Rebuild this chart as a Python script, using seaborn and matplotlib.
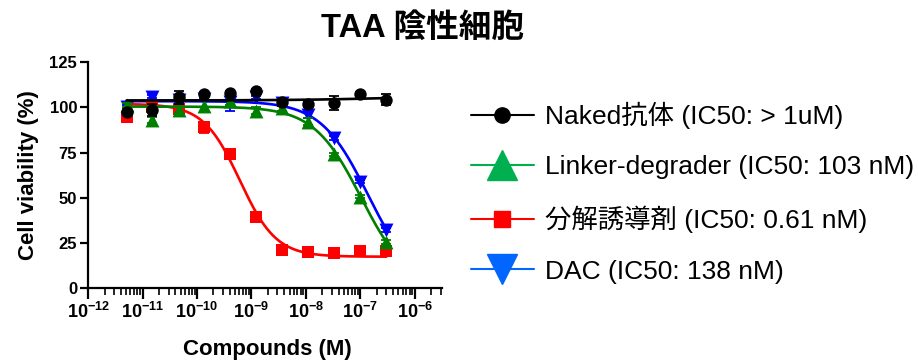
import numpy as np
import pandas as pd
import matplotlib
matplotlib.use("Agg")
import matplotlib.pyplot as plt
import seaborn as sns
from matplotlib.lines import Line2D
from matplotlib.ticker import LogLocator, FuncFormatter, MultipleLocator, NullFormatter

# 3-fold dilution series (M)
dose = [5.08e-12, 1.52e-11, 4.57e-11, 1.37e-10, 4.12e-10, 1.23e-9,
        3.70e-9, 1.11e-8, 3.33e-8, 1.0e-7, 3.0e-7]

naked = [97.7, 98.6, 105.6, 107.5, 107.9, 109.3, 102.9, 101.8, 102.7, 107.5, 104.2]
naked_err = [1.0, 3.5, 3.5, 1.0, 1.0, 1.0, 2.0, 1.5, 3.9, 1.0, 3.0]
linker = [101.4, 93.1, 98.6, 100.8, 103.6, 98.3, 99.6, 92.2, 74.1, 50.7, 25.8]
linker_err = [1.0, 1.5, 1.5, 3.5, 2.0, 2.0, 1.5, 2.0, 1.0, 1.0, 1.0]
degrader = [94.6, 100.5, 99.0, 89.0, 74.3, 39.6, 21.2, 19.9, 19.7, 20.8, 20.8]
degrader_err = [1.0, 2.0, 1.0, 3.0, 1.0, 1.0, 0.5, 0.5, 0.5, 0.5, 0.5]
dac = [100.5, 106.0, 104.0, 104.5, 103.0, 105.6, 102.3, 95.9, 83.0, 59.0, 32.3]
dac_err = [1.0, 1.0, 1.0, 1.0, 5.0, 1.0, 1.0, 1.5, 1.0, 1.0, 1.0]

# 4PL fit parameters: top, bottom, IC50 (M), hill slope
fit_naked = [103.9, 106.5, 3.0e-7, 0.5]
fit_linker = [100.5, 0.0, 1.03e-7, 1.0]
fit_degrader = [102.0, 17.5, 6.1e-10, 1.3]
fit_dac = [103.5, 0.0, 1.38e-7, 1.0]

labels = ["Naked抗体 (IC50: > 1uM)", "Linker-degrader (IC50: 103 nM)",
          "分解誘導剤 (IC50: 0.61 nM)", "DAC (IC50: 138 nM)"]

sns.set_style("ticks")
plt.rcParams['font.family'] = ['Liberation Sans', 'Noto Sans CJK JP']
plt.rcParams['mathtext.fontset'] = 'custom'
plt.rcParams['mathtext.rm'] = 'Liberation Sans:bold'
plt.rcParams['mathtext.it'] = 'Liberation Sans:bold'
plt.rcParams['mathtext.bf'] = 'Liberation Sans:bold'
for key in ['text.color', 'axes.labelcolor', 'xtick.color', 'ytick.color',
            'axes.edgecolor']:
    plt.rcParams[key] = 'black'


def four_pl(x, p):
    top, bottom, ic50, hill = p
    return bottom + (top - bottom) / (1 + (x / ic50) ** hill)


fig = plt.figure(figsize=(9.18, 3.6), dpi=100)
ax = fig.add_axes([0.096, 0.199, 0.385, 0.628])
ax.set_xscale('log')

# draw order: blue, red, green, black
series = [
    (dac, dac_err, fit_dac, 'v', '#0000FF', 100),
    (degrader, degrader_err, fit_degrader, 's', '#FF0000', 85),
    (linker, linker_err, fit_linker, '^', '#008000', 100),
    (naked, naked_err, fit_naked, 'o', 'black', 80),
]

xfit = np.logspace(np.log10(dose[0]), np.log10(dose[-1]), 200)
for i, (vals, err, fit, mk, col, s) in enumerate(series):
    z = 2 + i
    df = pd.DataFrame({'dose': dose, 'viability': vals})
    curve = pd.DataFrame({'dose': xfit, 'viability': four_pl(xfit, fit)})
    sns.lineplot(data=curve, x='dose', y='viability', color=col, lw=1.9,
                 ax=ax, zorder=z)
    ax.errorbar(dose, vals, yerr=err, fmt='none', ecolor=col, elinewidth=1.3,
                capsize=3.6, capthick=1.3, zorder=z)
    sns.scatterplot(data=df, x='dose', y='viability', marker=mk, color=col,
                    s=s, edgecolor=col, linewidth=0, ax=ax, zorder=z + 0.5,
                    legend=False)

ax.set_xlim(1e-12, 3.1e-6)
ax.set_ylim(0, 125)
ax.yaxis.set_major_locator(MultipleLocator(25))
ax.xaxis.set_major_locator(LogLocator(base=10, numticks=20))
ax.xaxis.set_minor_locator(LogLocator(base=10, subs=np.arange(2, 10), numticks=20))
ax.xaxis.set_minor_formatter(NullFormatter())
ax.xaxis.set_major_formatter(FuncFormatter(
    lambda v, pos: r"$\mathbf{10^{-%d}}$" % abs(int(round(np.log10(v))))))

sns.despine(ax=ax)
for sp in ['left', 'bottom']:
    ax.spines[sp].set_linewidth(1.6)
ax.tick_params(axis='both', which='major', width=1.6, labelsize=12, pad=2)
ax.tick_params(axis='x', which='major', length=8, labelsize=13)
ax.tick_params(axis='y', which='major', length=6)
ax.tick_params(axis='x', which='minor', length=5, width=1.2)
for lab in ax.get_yticklabels():
    lab.set_fontweight('bold')
ax.set_xlabel('')
ax.set_ylabel('')

fig.text(0.031, 0.515, 'Cell viability (%)', rotation=90, ha='center',
         va='center', fontsize=16, fontweight='bold')
fig.text(0.291, 0.028, 'Compounds (M)', ha='center', va='center',
         fontsize=16, fontweight='bold')
fig.text(0.46, 0.922, 'TAA 陰性細胞', ha='center', va='center',
         fontsize=23.5, fontweight='bold')

handles = [
    Line2D([], [], color='black', lw=1.5, marker='o', ms=11),
    Line2D([], [], color='#00B050', lw=1.5, marker='^', ms=21),
    Line2D([], [], color='#FF0000', lw=1.5, marker='s', ms=12),
    Line2D([], [], color='#0066FF', lw=1.5, marker='v', ms=21),
]
fig.legend(handles, labels, loc='center left', bbox_to_anchor=(0.487, 0.465),
           frameon=False, fontsize=19, handlelength=2.4, handletextpad=0.4,
           labelspacing=1.0, numpoints=1)

fig.savefig('out.png', dpi=100)
